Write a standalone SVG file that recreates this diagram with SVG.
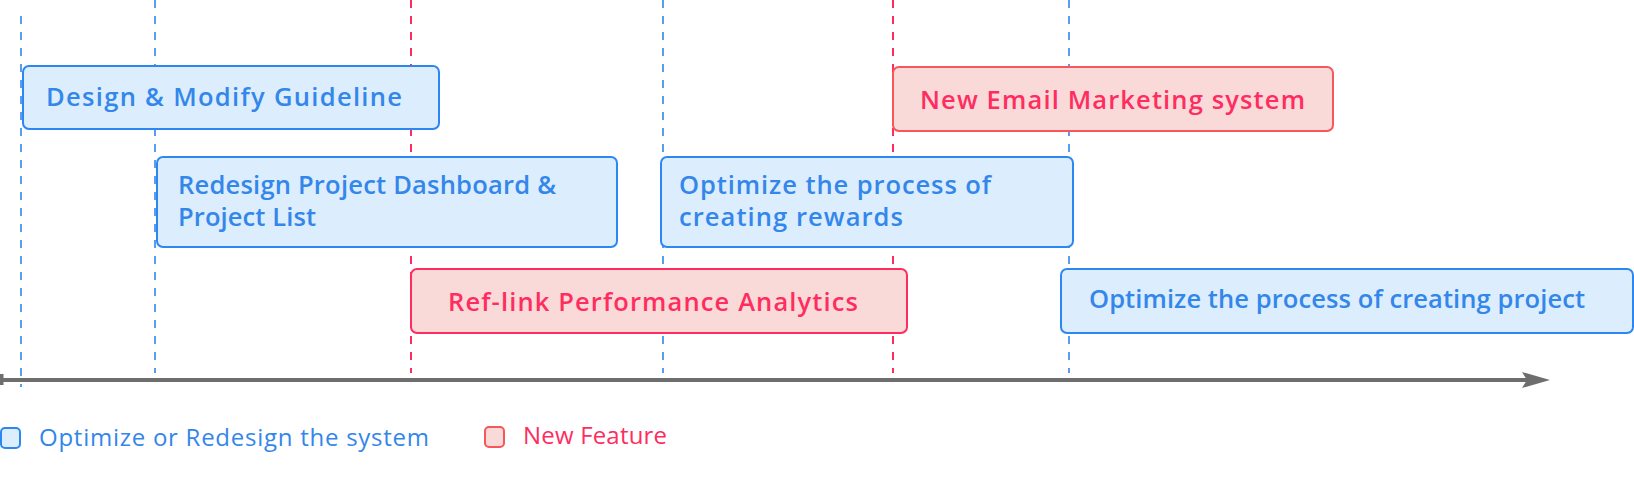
<svg xmlns="http://www.w3.org/2000/svg" width="1634" height="484" viewBox="0 0 1634 484">
<style>
.bg{fill:#ffffff}
.vb{stroke:#5A9DF0;stroke-width:2;stroke-dasharray:8 8;fill:none}
.vr{stroke:#FF2D5F;stroke-width:2;stroke-dasharray:8 8;fill:none}
.bbox{fill:#DCEDFD;stroke:#2D87F3;stroke-width:2}
.rbox{fill:#FAD9D9;stroke:#FF2D5F;stroke-width:2}
.rbox2{fill:#FAD9D9;stroke:#F7565A;stroke-width:2}
.t{font-family:"Open Sans","Noto Sans","Liberation Sans",sans-serif;font-weight:600;font-size:25.5px}
.tb{fill:#3386EA}
.tr{fill:#FF2D5F}
.lg{font-family:"Open Sans","Noto Sans","Liberation Sans",sans-serif;font-weight:400;font-size:24px}
</style>
<rect class="bg" x="0" y="0" width="1634" height="484"/>
<g id="guides">
<line class="vb" x1="21" y1="16" x2="21" y2="387"/>
<line class="vb" x1="155" y1="0" x2="155" y2="373"/>
<line class="vr" x1="411" y1="0" x2="411" y2="373"/>
<line class="vb" x1="663" y1="0" x2="663" y2="373"/>
<line class="vr" x1="893" y1="0" x2="893" y2="373"/>
<line class="vb" x1="1069" y1="0" x2="1069" y2="373"/>
</g>
<g id="connectors">
<rect x="0" y="374" width="3.5" height="11" fill="#6E6E6E"/>
<line x1="0" y1="380" x2="1535" y2="380" stroke="#6E6E6E" stroke-width="4"/>
<polygon points="1522,372 1550,380 1522,388 1527,380" fill="#6E6E6E"/>
</g>
<g id="n1">
<rect class="bbox" x="23" y="66" width="416" height="63" rx="6"/>
<text class="t tb" x="46" y="106" textLength="356" lengthAdjust="spacing">Design &amp; Modify Guideline</text>
</g>
<g id="n2">
<rect class="bbox" x="157" y="157" width="460" height="90" rx="6"/>
<text class="t tb" x="178" y="194" textLength="378" lengthAdjust="spacing">Redesign Project Dashboard &amp;</text>
<text class="t tb" x="178" y="226" textLength="138" lengthAdjust="spacing">Project List</text>
</g>
<g id="n3">
<rect class="bbox" x="661" y="157" width="412" height="90" rx="6"/>
<text class="t tb" x="679" y="194" textLength="312" lengthAdjust="spacing">Optimize the process of</text>
<text class="t tb" x="679" y="226" textLength="224" lengthAdjust="spacing">creating rewards</text>
</g>
<g id="n4">
<rect class="rbox" x="411" y="269" width="496" height="64" rx="6"/>
<text class="t tr" x="448" y="311" textLength="410" lengthAdjust="spacing">Ref-link Performance Analytics</text>
</g>
<g id="n5">
<rect class="bbox" x="1061" y="269" width="572" height="64" rx="6"/>
<text class="t tb" x="1089" y="308" textLength="496" lengthAdjust="spacing">Optimize the process of creating project</text>
</g>
<g id="n6">
<rect class="rbox2" x="893" y="67" width="440" height="64" rx="6"/>
<text class="t tr" x="920" y="109" textLength="385" lengthAdjust="spacing">New Email Marketing system</text>
</g>
<g id="legend">
<rect x="1" y="428" width="19" height="20" rx="4" fill="#DCEDFD" stroke="#2D87F3" stroke-width="2"/>
<text class="lg tb" x="39" y="446" textLength="390" lengthAdjust="spacing">Optimize or Redesign the system</text>
<rect x="485" y="427" width="19" height="20" rx="4" fill="#FAD9D9" stroke="#F7565A" stroke-width="2"/>
<text class="lg tr" x="523" y="444" textLength="144" lengthAdjust="spacing">New Feature</text>
</g>
</svg>
